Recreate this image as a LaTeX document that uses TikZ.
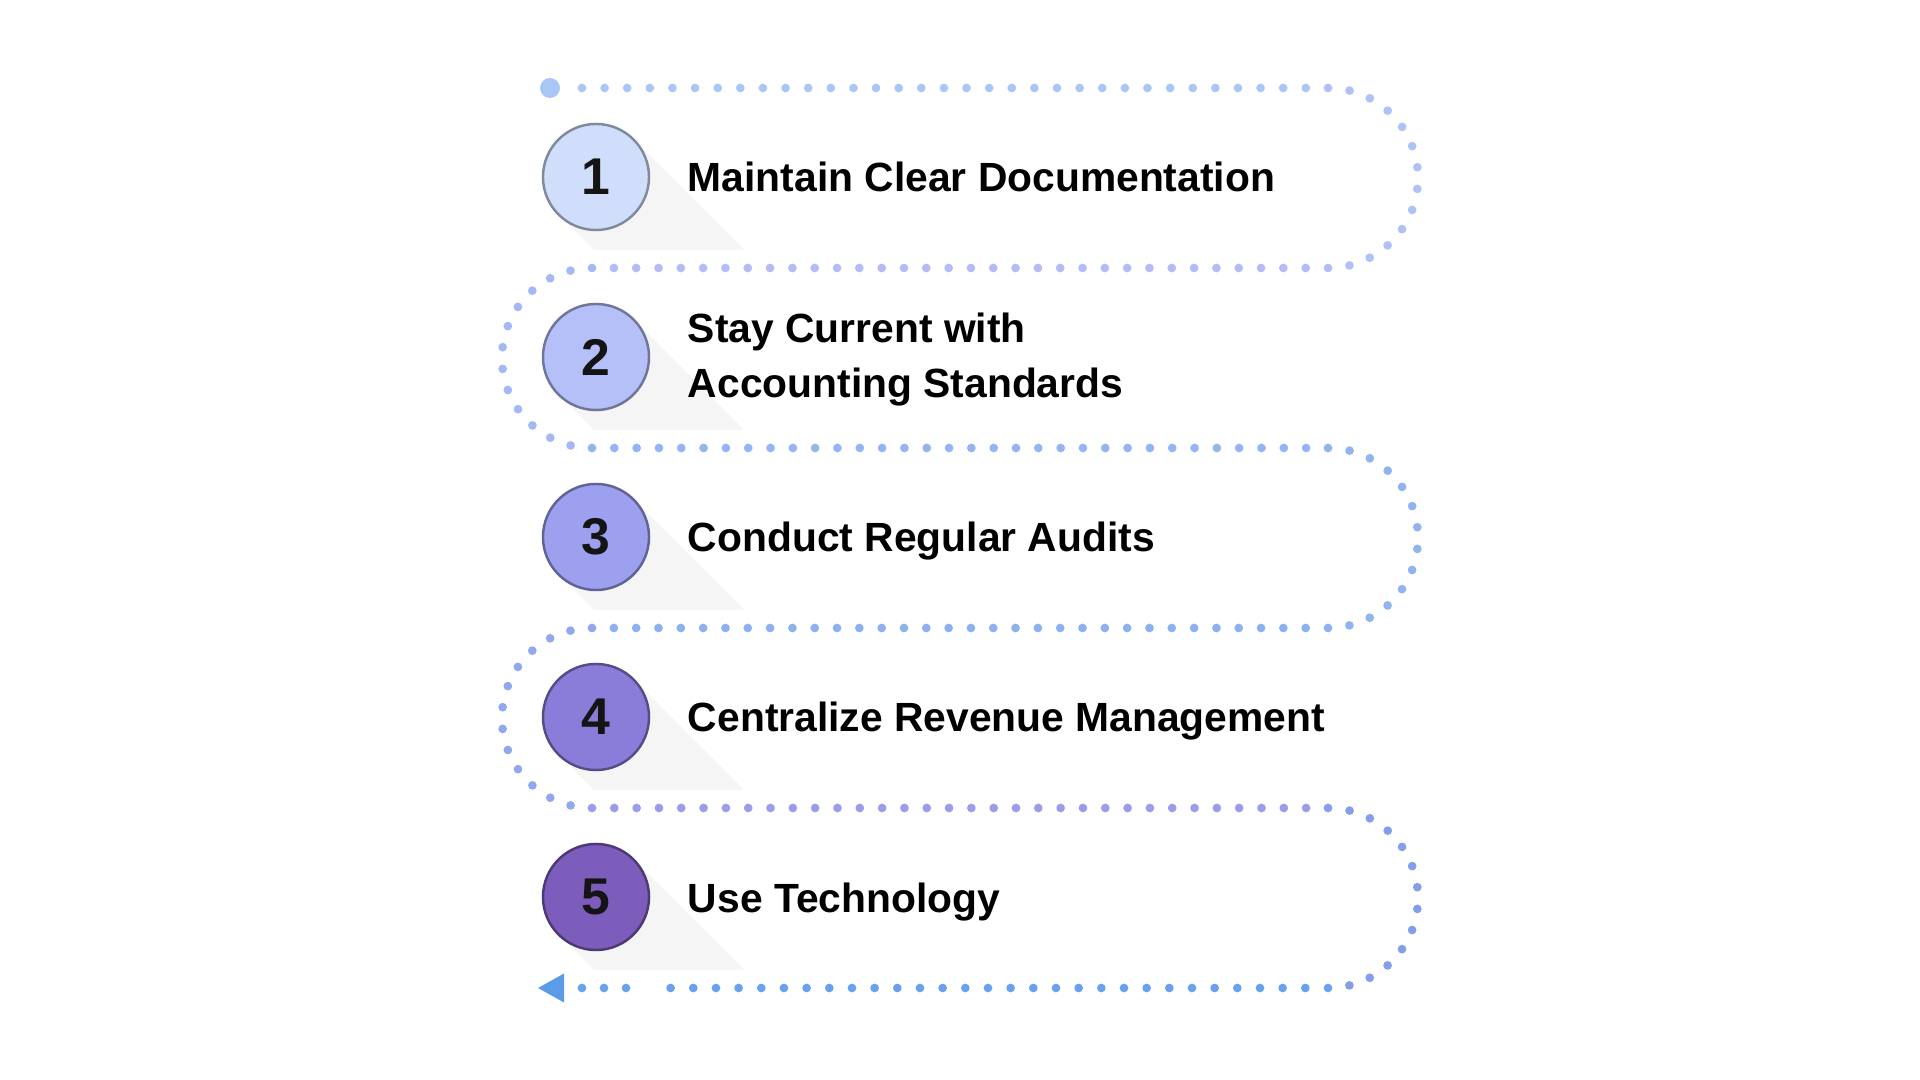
\documentclass[tikz,border=0pt]{standalone}
\usepackage{fontspec}
\setmainfont{Liberation Sans}
\usetikzlibrary{positioning,backgrounds}
\definecolor{trailA}{HTML}{A8C7F6}
\definecolor{trailB}{HTML}{B4BCF5}
\definecolor{trailC}{HTML}{94B5F1}
\definecolor{trailD}{HTML}{8DB1EF}
\definecolor{trailE}{HTML}{9A9EE8}
\definecolor{trailF}{HTML}{6BA0EA}
\definecolor{trailTip}{HTML}{5C9BE8}
\definecolor{discA}{HTML}{D0DEFC}
\definecolor{discB}{HTML}{B5BFF8}
\definecolor{discC}{HTML}{9DA0EF}
\definecolor{discD}{HTML}{8A7DDA}
\definecolor{discE}{HTML}{7D5DBB}
\tikzset{
  stepnum/.style={circle, draw=#1!62!black, fill=#1, line width=0.7pt, minimum size=1.06cm, inner sep=0pt,
    text=black!92, font=\fontsize{14.7pt}{14.7pt}\selectfont\bfseries},
  stepfont/.style={inner sep=0pt, align=left, font=\fontsize{11.6pt}{15.65pt}\selectfont\bfseries},
  steptext/.style={stepfont, text height=0.3cm, text depth=0pt},
  longshadow/.style={fill=black!4},
  dots/.style={line width=2.48pt, line cap=round, dash pattern=on 0pt off #1},
}
\begin{document}
\begin{tikzpicture}[x=0.01cm, y=-0.01cm]
\useasboundingbox (0,0) rectangle (1920,1080);
% steps
\node[stepnum=discA] (n1) at (596,177) {1};
\node[stepnum=discB] (n2) at (596,357) {2};
\node[stepnum=discC] (n3) at (596,537) {3};
\node[stepnum=discD] (n4) at (596,717) {4};
\node[stepnum=discE] (n5) at (596,897) {5};
\node[steptext, right=0.37cm of n1] (t1) {Maintain Clear Documentation};
\node[stepfont, right=0.37cm of n2, yshift=-0.7pt] (t2) {Stay Current with\\Accounting Standards};
\node[steptext, right=0.37cm of n3] (t3) {Conduct Regular Audits};
\node[steptext, right=0.37cm of n4] (t4) {Centralize Revenue Management};
\node[steptext, right=0.37cm of n5] (t5) {Use Technology};
\begin{scope}[on background layer]
\fill[white] (0,0) rectangle (1920,1080);
\fill[longshadow] (n1.center) ++(37.5,-37.5) -- ++(110.5,110.5) -- ++(-150,0) -- ++(-35.5,-35.5) -- cycle;
\fill[longshadow] (n2.center) ++(37.5,-37.5) -- ++(110.5,110.5) -- ++(-150,0) -- ++(-35.5,-35.5) -- cycle;
\fill[longshadow] (n3.center) ++(37.5,-37.5) -- ++(110.5,110.5) -- ++(-150,0) -- ++(-35.5,-35.5) -- cycle;
\fill[longshadow] (n4.center) ++(37.5,-37.5) -- ++(110.5,110.5) -- ++(-150,0) -- ++(-35.5,-35.5) -- cycle;
\fill[longshadow] (n5.center) ++(37.5,-37.5) -- ++(110.5,110.5) -- ++(-150,0) -- ++(-35.5,-35.5) -- cycle;
\end{scope}
% dotted trail
\node[circle, fill=trailA, inner sep=0pt, minimum size=0.2cm] (start) at (550,88) {};
\coordinate (p0) at (582,88);
\coordinate (c1) at (1328,88);
\coordinate (c2) at (1328,268);
\coordinate (c3) at (592,268);
\coordinate (c4) at (592,448);
\coordinate (c5) at (1328,448);
\coordinate (c6) at (1328,628);
\coordinate (c7) at (592,628);
\coordinate (c8) at (592,808);
\coordinate (c9) at (1328,808);
\coordinate (c10) at (1328,988);
\coordinate (c11) at (670.5,988);
\coordinate (c12) at (626,988);
\coordinate (c13) at (581.9,988);
\coordinate (tip) at (538,988);
\draw[dots=6.432pt, trailA] (p0) -- (c1);
\draw[dots=6.188pt, trailA!50!trailB] (c1) arc[start angle=-90, end angle=90, radius=90];
\draw[dots=6.346pt, trailB] (c2) -- (c3);
\draw[dots=6.188pt, trailB!50!trailC] (c3) arc[start angle=270, end angle=90, radius=90];
\draw[dots=6.346pt, trailC] (c4) -- (c5);
\draw[dots=6.188pt, trailC!50!trailD] (c5) arc[start angle=-90, end angle=90, radius=90];
\draw[dots=6.346pt, trailD] (c6) -- (c7);
\draw[dots=6.188pt, trailD!50!trailE] (c7) arc[start angle=270, end angle=90, radius=90];
\draw[dots=6.346pt, trailE] (c8) -- (c9);
\draw[dots=6.188pt, trailE!50!trailF] (c9) arc[start angle=-90, end angle=90, radius=90];
\draw[dots=6.446pt, trailF] (c10) -- (c11);
\draw[dots=6.26pt, trailF] (c12) -- (c13);
\fill[trailTip] (tip) -- ++(26,-14.5) -- ++(0,29) -- cycle;
\end{tikzpicture}
\end{document}
